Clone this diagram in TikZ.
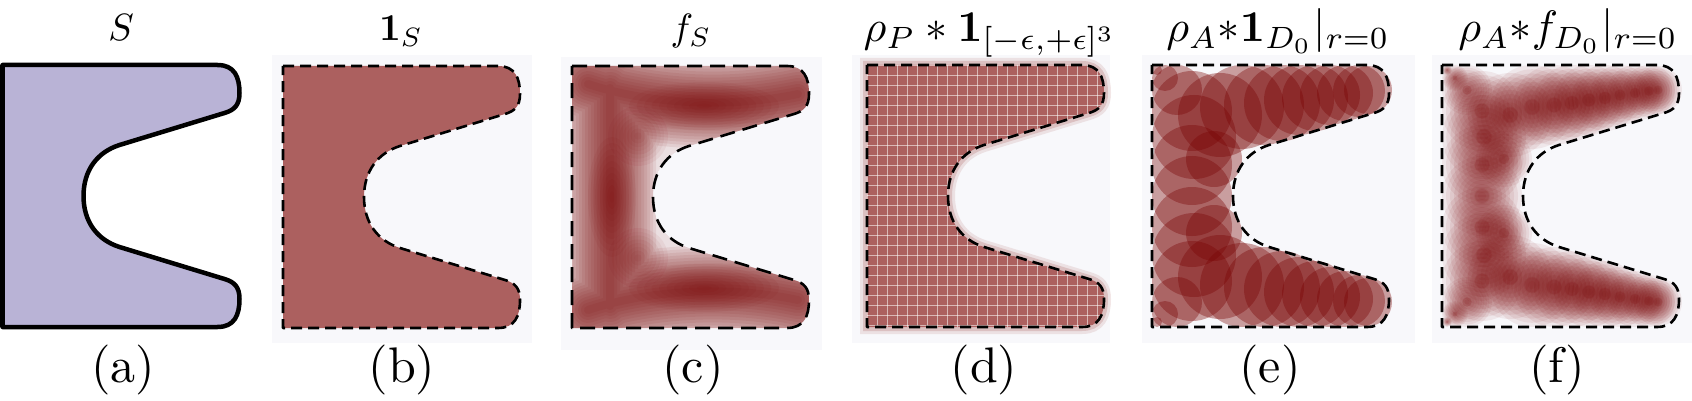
\documentclass[tikz,border=0pt]{standalone}
\usepackage{amsmath,amssymb}
\definecolor{lav}{RGB}{185,179,214}
\definecolor{flatred}{RGB}{172,96,95}
\definecolor{mr}{RGB}{122,4,4}
\definecolor{bgc}{RGB}{248,248,251}
\tikzset{
 dsh/.style={draw=black, line width=2.6pt, dash pattern=on 11pt off 6pt, line join=round},
 ttl/.style={anchor=base, inner sep=0pt, scale=3.8},
 ttlb/.style={anchor=base, inner sep=0pt, scale=4.4},
 lbl/.style={anchor=base, inner sep=0pt, scale=5},
 bgbox/.style={fill=bgc, draw=none},
}
\newcommand\ShapeP{(0,0) -- (215,0) .. controls (232,0) and (237,12) .. (237,28) .. controls (237,40) and (232,45) .. (222,48) -- (117,80) .. controls (95,87) and (81,105) .. (81,131) .. controls (81,157) and (95,175) .. (117,182) -- (222,214) .. controls (232,217) and (237,222) .. (237,234) .. controls (237,250) and (232,262) .. (215,262) -- (0,262) -- cycle}
\newcommand\CircList{5/5/5, 13/13/13, 25/25/25, 40/46/40, 42/72/42, 40/100/40, 62/94/28, 68/50/42, 90/42/42, 112/40/40, 130/38/38, 147/35/35, 163/33/33, 178/30/30, 193/28/28, 207/26/26, 216/25/24}
\begin{document}
\begin{tikzpicture}[x=1pt,y=-1pt]
\useasboundingbox (0,0) rectangle (1692,401);
% backgrounds
\path[bgbox] (272,55) rectangle (532,343);
\path[bgbox] (561,57) rectangle (822,350);
\path[bgbox] (852,55) rectangle (1110,343);
\path[bgbox] (1142,55) rectangle (1415,343);
\path[bgbox] (1432,55) rectangle (1692,343);

% (a)
\begin{scope}[shift={(2.5,65)}]
 \draw[fill=lav, line width=4.5pt, line join=round] \ShapeP;
\end{scope}

% (b)
\begin{scope}[shift={(283,66)}]
 \fill[flatred] \ShapeP;
 \draw[dsh] \ShapeP;
\end{scope}

% (c)
\begin{scope}[shift={(572,66)}]
 \begin{scope}
  \clip \ShapeP;
  \fill[mr, opacity=0.1] \ShapeP;
  \foreach \k in {1,...,8} {
   \fill[mr, opacity=0.05] (66,70) circle ({30*\k/8});
   \fill[mr, opacity=0.05] (66,192) circle ({30*\k/8});
  }
  \foreach \w in {92,86,...,4} {
   \draw[mr, opacity=0.075, line width=\w pt, line cap=round, line join=round]
    (16,18) .. controls (70,36) and (150,44) .. (226,28)
    (16,244) .. controls (70,226) and (150,218) .. (226,234)
    (38,22) -- (38,240);
  }
  \foreach \k in {1,...,10} {
   \fill[mr, opacity=0.06] (132,40) ellipse ({75*\k/10} and {24*\k/10});
   \fill[mr, opacity=0.06] (132,222) ellipse ({75*\k/10} and {24*\k/10});
   \fill[mr, opacity=0.06] (40,131) ellipse ({24*\k/10} and {60*\k/10});
  }
 \end{scope}
 \draw[dsh, dash pattern=on 15pt off 8pt] \ShapeP;
\end{scope}

% (d)
\begin{scope}[shift={(867,65)}]
 \draw[flatred, line width=14pt, opacity=0.15] \ShapeP;
 \draw[flatred, line width=8pt, opacity=0.25] \ShapeP;
 \fill[flatred] \ShapeP;
 \begin{scope}
  \clip \ShapeP;
  \foreach \i in {0,10,...,240} \draw[white, opacity=0.55, line width=0.8pt] (\i,-5) -- (\i,270);
  \foreach \j in {0,10,...,270} \draw[white, opacity=0.55, line width=0.8pt] (-5,\j) -- (245,\j);
 \end{scope}
 \draw[dsh] \ShapeP;
\end{scope}

% (e)
\begin{scope}[shift={(1152,65)}]
 \foreach \u/\v/\r in \CircList {
  \fill[mr, opacity=0.37] (\u,\v) circle (\r);
  \fill[mr, opacity=0.37] (\u,262-\v) circle (\r);
 }
 \fill[mr, opacity=0.37] (40,131) circle (40);
 \draw[dsh] \ShapeP;
\end{scope}

% (f)
\begin{scope}[shift={(1442,65)}]
 \foreach \u/\v/\r in \CircList {
  \foreach \k in {1,...,10} {
   \fill[mr, opacity=0.065] (\u,\v) circle ({\r*\k/10});
   \fill[mr, opacity=0.065] (\u,262-\v) circle ({\r*\k/10});
  }
  \fill[mr, opacity=0.12] (\u,\v) circle ({\r*0.18});
  \fill[mr, opacity=0.12] (\u,262-\v) circle ({\r*0.18});
 }
 \foreach \k in {1,...,10} \fill[mr, opacity=0.065] (40,131) circle ({40*\k/10});
 \fill[mr, opacity=0.12] (40,131) circle (7);
 \draw[dsh] \ShapeP;
\end{scope}

% titles
\node[ttl] (ta) at (121,41) {$S$};
\node[ttl] (tb) at (401,41) {$\mathbf{1}_S$};
\node[ttl] (tc) at (691,41) {$f_S$};
\node[ttlb] (td) at (990,42) {$\rho_P * \mathbf{1}_{[-\epsilon,+\epsilon]^3}$};
\node[ttlb] (te) at (1278,42) {$\rho_A{*}\mathbf{1}_{D_0}|_{r=0}$};
\node[ttlb] (tf) at (1568,42) {$\rho_A{*}f_{D_0}|_{r=0}$};
% labels
\node[lbl] (la) at (123,382) {(a)};
\node[lbl] (lb) at (402,382) {(b)};
\node[lbl] (lc) at (693,382) {(c)};
\node[lbl] (ld) at (984,382) {(d)};
\node[lbl] (le) at (1270,382) {(e)};
\node[lbl] (lf) at (1557,382) {(f)};
\end{tikzpicture}
\end{document}
